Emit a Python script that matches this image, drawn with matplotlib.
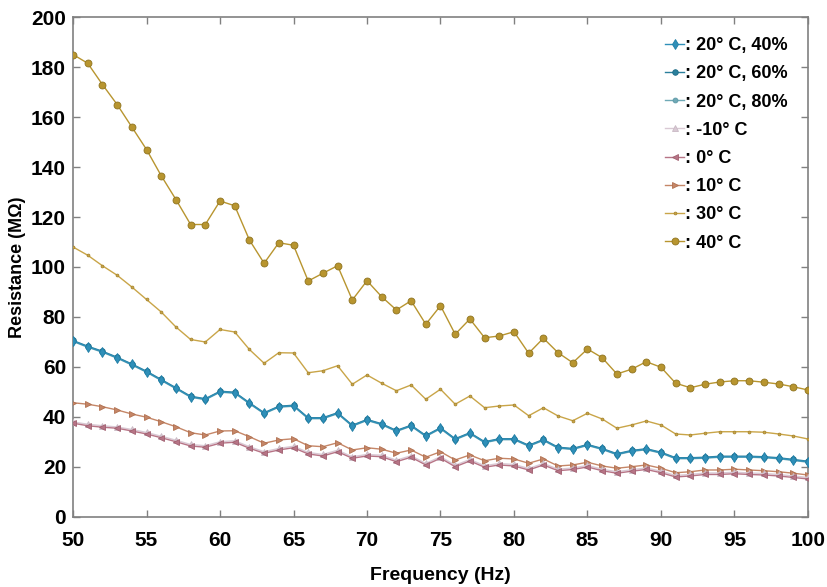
import matplotlib
matplotlib.use("Agg")
import matplotlib.pyplot as plt
from matplotlib.ticker import MultipleLocator

freq = list(range(50, 101))

r_20c_40 = [70.4, 68.1, 66.1, 63.7, 61.0, 58.1, 54.8, 51.5, 48.1, 47.1,
            50.1, 49.7, 45.5, 41.5, 44.1, 44.5, 39.5, 39.5, 41.5, 36.5,
            38.8, 37.1, 34.4, 36.5, 32.4, 35.5, 31.1, 33.5, 29.9, 31.1,
            31.1, 28.5, 30.8, 27.7, 27.2, 28.8, 27.2, 25.1, 26.4, 27.1,
            25.7, 23.5, 23.5, 23.7, 24.1, 24.1, 24.1, 23.9, 23.5, 22.8, 22.1]
r_20c_60 = [70.6, 68.3, 66.3, 63.9, 61.2, 58.3, 55.0, 51.7, 48.3, 47.3,
            50.3, 49.9, 45.7, 41.7, 44.3, 44.7, 39.7, 39.7, 41.7, 36.7,
            39.0, 37.3, 34.6, 36.7, 32.6, 35.7, 31.3, 33.7, 30.1, 31.3,
            31.3, 28.7, 31.0, 27.9, 27.4, 29.0, 27.4, 25.3, 26.6, 27.3,
            25.9, 23.7, 23.7, 23.9, 24.3, 24.3, 24.3, 24.1, 23.7, 23.0, 22.3]
r_20c_80 = [70.2, 67.9, 65.9, 63.5, 60.8, 57.9, 54.6, 51.3, 47.9, 46.9,
            49.9, 49.5, 45.3, 41.3, 43.9, 44.3, 39.3, 39.3, 41.3, 36.3,
            38.6, 36.9, 34.2, 36.3, 32.2, 35.3, 30.9, 33.3, 29.7, 30.9,
            30.9, 28.3, 30.6, 27.5, 27.0, 28.6, 27.0, 24.9, 26.2, 26.9,
            25.5, 23.3, 23.3, 23.5, 23.9, 23.9, 23.9, 23.7, 23.3, 22.6, 21.9]
r_m10c = [38.0, 37.1, 36.5, 36.0, 35.0, 33.8, 32.3, 30.7, 29.0, 28.5,
          30.1, 30.5, 28.1, 26.1, 27.4, 28.3, 25.8, 25.0, 26.7, 24.1,
          25.0, 24.7, 22.7, 24.5, 21.4, 24.1, 20.7, 23.0, 20.5, 21.4,
          21.0, 19.4, 21.4, 19.1, 19.6, 20.6, 19.1, 18.1, 18.9, 19.6,
          18.3, 16.6, 17.0, 17.6, 17.6, 17.9, 17.6, 17.4, 17.0, 16.4, 15.8]
r_0c = [37.5, 36.5, 35.9, 35.5, 34.4, 33.2, 31.7, 30.1, 28.4, 27.9,
        29.5, 29.9, 27.5, 25.5, 26.8, 27.7, 25.2, 24.4, 26.1, 23.5,
        24.4, 24.1, 22.1, 23.9, 20.8, 23.5, 20.1, 22.4, 19.9, 20.8,
        20.4, 18.8, 20.8, 18.5, 19.0, 20.0, 18.5, 17.5, 18.3, 19.0,
        17.7, 16.0, 16.4, 17.0, 17.0, 17.3, 17.0, 16.8, 16.4, 15.8, 15.2]
r_10c = [45.7, 45.1, 44.1, 42.8, 41.2, 39.9, 38.1, 36.1, 33.7, 32.8,
         34.4, 34.5, 32.1, 29.5, 30.8, 31.3, 28.5, 28.1, 29.7, 26.8,
         27.7, 27.1, 25.5, 26.8, 23.9, 26.1, 22.8, 24.8, 22.5, 23.5,
         23.2, 21.5, 23.2, 20.4, 20.8, 21.9, 20.4, 19.5, 20.1, 20.8,
         19.5, 17.7, 18.1, 18.8, 18.8, 19.1, 18.8, 18.5, 18.1, 17.5, 16.8]
r_30c = [108.0, 104.7, 100.5, 96.7, 92.0, 87.0, 82.0, 76.0, 71.0, 70.0,
         75.0, 74.0, 67.0, 61.5, 65.7, 65.6, 57.7, 58.5, 60.5, 53.1,
         56.8, 53.5, 50.5, 52.8, 47.1, 51.1, 45.1, 48.4, 43.7, 44.4,
         44.8, 40.5, 43.7, 40.4, 38.5, 41.5, 39.2, 35.5, 36.8, 38.4,
         36.8, 33.2, 32.8, 33.5, 34.1, 34.1, 34.1, 33.9, 33.2, 32.4, 31.2]
r_40c = [185.0, 181.5, 173.0, 165.0, 156.0, 147.0, 136.5, 127.0, 117.0, 117.0,
         126.4, 124.5, 110.8, 101.5, 109.7, 108.7, 94.4, 97.5, 100.5, 86.8,
         94.5, 88.1, 82.8, 86.5, 77.1, 84.5, 73.1, 79.2, 71.7, 72.4,
         74.1, 65.5, 71.5, 65.7, 61.7, 67.2, 63.7, 57.2, 59.1, 62.1,
         59.9, 53.5, 51.7, 53.1, 54.0, 54.5, 54.5, 53.9, 53.2, 52.1, 50.8]

labels = [': 20\u00b0 C, 40%', ': 20\u00b0 C, 60%', ': 20\u00b0 C, 80%',
          ': -10\u00b0 C', ': 0\u00b0 C', ': 10\u00b0 C',
          ': 30\u00b0 C', ': 40\u00b0 C']
series = [r_20c_40, r_20c_60, r_20c_80, r_m10c, r_0c, r_10c, r_30c, r_40c]
colors = ['#2f8fb8', '#2a7f9c', '#6fa9b6', '#d9c9d4', '#b77486', '#c58667', '#c9a548', '#b8952f']
markers = ['d', 'o', 'o', '^', '<', '>', '.', 'o']
msizes = [5, 4, 3.5, 4, 4.5, 4.5, 4, 5]
mecs = ['#1f7ea6', '#1d6a85', '#5c98a6', '#c9b9c4', '#a06070', '#b07050', '#a88730', '#8f7420']

plt.rcParams['font.family'] = ['Liberation Sans', 'DejaVu Sans']

fig = plt.figure(figsize=(8.28, 5.87), dpi=100)
ax = fig.add_axes([0.0882, 0.1193, 0.8876, 0.8517])

order = [7, 6, 5, 3, 4, 2, 1, 0]
handles = [None] * 8
for i in order:
    h, = ax.plot(freq, series[i], color=colors[i], marker=markers[i], ms=msizes[i],
                 mfc=colors[i], mec=mecs[i], mew=0.6, lw=1.0, label=labels[i],
                 zorder=3 + (1 if i < 3 else 0))
    handles[i] = h

ax.set_xlim(50, 100)
ax.set_ylim(0, 200)
ax.xaxis.set_major_locator(MultipleLocator(5))
ax.yaxis.set_major_locator(MultipleLocator(20))
ax.tick_params(direction='in', top=True, right=True, length=5, width=1,
               color='#808080', labelsize=15)
ax.tick_params(axis='x', pad=10)
ax.tick_params(axis='y', pad=5)
for lab in ax.get_xticklabels() + ax.get_yticklabels():
    lab.set_fontweight('bold')
for s in ax.spines.values():
    s.set_color('#808080')
    s.set_linewidth(1.2)

ax.set_xlabel('Frequency (Hz)', fontsize=14, fontweight='semibold', labelpad=12)
ax.set_ylabel('Resistance (M\u03a9)', fontsize=13, fontweight='semibold', labelpad=4)

leg = ax.legend(handles=handles, labels=labels, loc='upper right', frameon=False,
                handlelength=1.0, handletextpad=0.1, labelspacing=0.62,
                borderaxespad=0.3, prop={'size': 13, 'weight': 'bold'},
                bbox_to_anchor=(0.99, 0.985))

fig.savefig('out.png', dpi=100)
